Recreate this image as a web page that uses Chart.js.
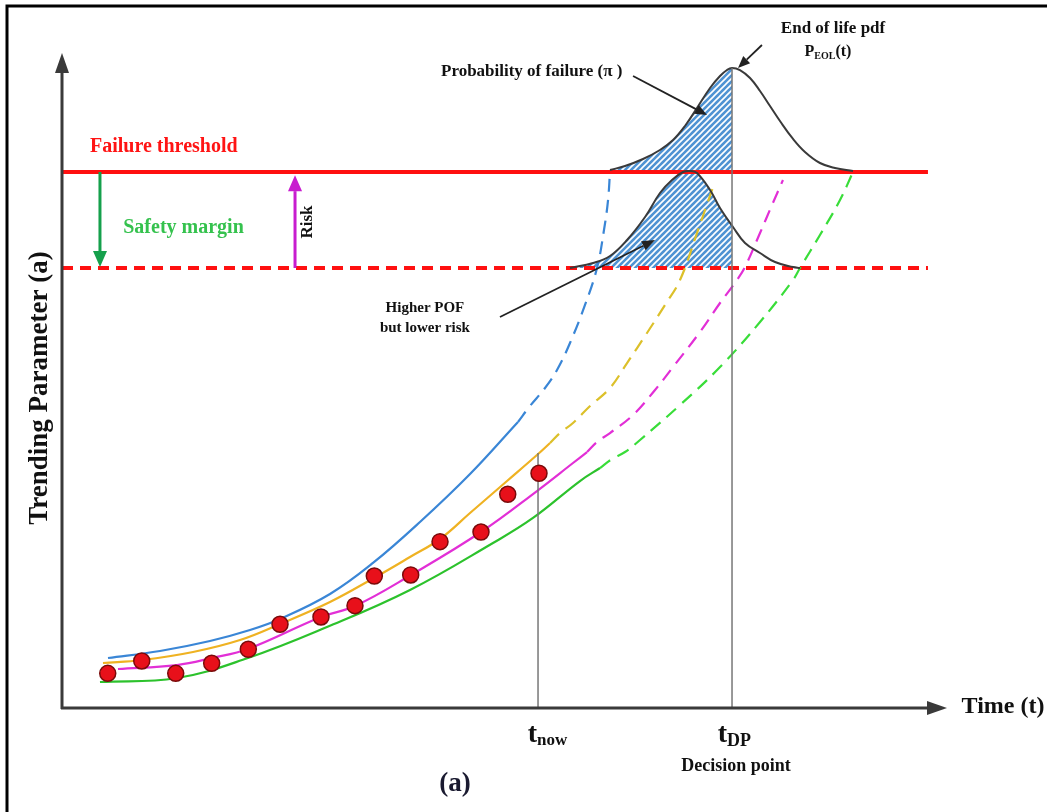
<!DOCTYPE html>
<html><head><meta charset="utf-8">
<script src="https://cdn.jsdelivr.net/npm/chart.js@4.4.1/dist/chart.umd.min.js"></script>
<style>html,body{margin:0;padding:0;background:#fff;overflow:hidden}canvas{display:block}</style>
</head><body>
<canvas id="c" width="1047" height="812"></canvas>
<script>
// ---- Data (x = time units 0..100, y = trending parameter units 0..100) ----
const measurements = [[5.18,5.31],[9.03,7.20],[12.88,5.31],[16.95,6.85],[21.10,8.99],[24.69,12.82],[29.33,13.94],[33.18,15.67],[35.37,20.21],[39.49,20.37],[42.81,25.47],[47.45,26.95],[50.48,32.73],[54.02,35.94]];

const blueFit = [[5.21,7.66],[11.10,8.73],[16.76,10.26],[21.29,11.94],[24.69,13.63],[30.35,17.46],[35.22,22.21],[40.54,28.48],[46.21,35.83],[51.64,43.80]];
const blueForecast = [[51.64,43.80],[53.00,46.25],[54.70,49.00],[56.06,51.76],[57.53,55.90],[59.23,61.72],[60.59,67.38],[61.38,73.20],[61.84,77.79],[62.06,82.08]];

const orangeFit = [[4.64,6.89],[9.06,7.35],[14.84,8.58],[20.16,10.41],[24.69,12.86],[30.35,16.23],[35.33,19.91],[39.41,23.12],[42.81,25.88],[46.21,29.86],[50.40,34.76],[53.79,38.74],[55.27,40.58]];
const orangeForecast = [[55.27,40.58],[56.40,42.11],[57.87,43.64],[59.80,46.25],[62.06,49.00],[63.99,52.83],[66.25,57.43],[68.29,61.72],[69.99,65.54],[71.91,72.74],[73.73,79.79]];

const magentaFit = [[6.34,5.97],[13.02,6.58],[16.99,7.66],[21.06,9.04],[29.33,13.94],[33.18,15.62],[39.52,20.37],[47.45,26.95],[53.79,33.23],[57.87,37.52],[59.46,39.20]];
const magentaForecast = [[59.46,39.20],[60.59,40.74],[62.06,42.11],[64.67,44.87],[67.16,48.70],[69.20,52.22],[72.25,57.58],[74.52,62.02],[76.44,65.54],[77.35,67.53],[79.05,72.74],[80.41,77.03],[81.65,80.86]];

const greenFit = [[4.30,3.98],[13.02,4.59],[21.06,7.66],[30.01,12.40],[39.41,18.07],[48.81,25.27],[53.34,29.10],[58.66,34.76],[60.93,36.75]];
const greenForecast = [[60.93,36.75],[62.29,38.13],[63.76,39.20],[65.46,41.04],[69.99,46.40],[74.52,52.22],[79.05,59.11],[82.79,65.54],[83.58,67.38],[85.84,72.43],[88.11,77.79],[89.58,82.08]];

const endOfLifePdf = [[62.06,82.39],[63.76,83.00],[65.80,84.07],[67.72,85.45],[69.20,86.98],[70.55,89.13],[71.91,91.88],[73.39,94.95],[74.52,96.78],[75.31,97.70],[75.88,98.01],[76.78,97.70],[77.92,96.48],[79.05,94.49],[80.18,92.19],[81.31,89.89],[82.79,87.14],[84.14,85.15],[85.84,83.46],[87.54,82.70],[89.58,82.24]];
const endOfLifePof = [[62.06,82.39],[63.76,83.00],[65.80,84.07],[67.72,85.45],[69.20,86.98],[70.55,89.13],[71.91,91.88],[73.39,94.95],[74.52,96.78],[75.31,97.70],[75.88,98.01]];

const lowerPdf = [[57.53,67.38],[60.14,68.15],[62.06,69.22],[63.99,71.67],[66.03,75.19],[67.72,78.87],[69.08,80.86],[70.33,82.08],[71.12,82.24],[71.91,81.93],[73.39,79.33],[74.52,76.57],[75.99,73.66],[77.35,71.21],[79.05,69.68],[80.75,68.30],[82.79,67.53],[83.58,67.38]];
const lowerPof = [[57.53,67.38],[60.14,68.15],[62.06,69.22],[63.99,71.67],[66.03,75.19],[67.72,78.87],[69.08,80.86],[70.33,82.08],[71.12,82.24],[71.91,81.93],[73.39,79.33],[74.52,76.57],[75.88,73.97]];

const failureThreshold = 82.08;
const safetyThreshold = 67.38;
const thresholdEnd = 98.07;
const tNow = 53.91, tNowTop = 39.05;
const tDP = 75.88, tDPTop = 98.01;

// ---- helpers ----
const FONT = '"Liberation Serif","Times New Roman",serif';
const pts = a => a.map(p => ({x:p[0], y:p[1]}));

function hatch(){
  const s = 6, c = document.createElement('canvas'); c.width = c.height = s;
  const g = c.getContext('2d');
  g.fillStyle = '#4f93d3'; g.fillRect(0,0,s,s);
  g.strokeStyle = '#ffffff'; g.lineWidth = 1.6;
  g.beginPath();
  g.moveTo(-1,s+1); g.lineTo(s+1,-1);
  g.moveTo(-1,1); g.lineTo(1,-1);
  g.moveTo(s-1,s+1); g.lineTo(s+1,s-1);
  g.stroke();
  return g.createPattern(c,'repeat');
}

function arrow(ctx,x1,y1,x2,y2,color,w,hl,hw){
  const ang = Math.atan2(y2-y1,x2-x1);
  const bx = x2 - hl*Math.cos(ang), by = y2 - hl*Math.sin(ang);
  ctx.strokeStyle = color; ctx.fillStyle = color; ctx.lineWidth = w;
  ctx.beginPath(); ctx.moveTo(x1,y1); ctx.lineTo(bx,by); ctx.stroke();
  ctx.beginPath();
  ctx.moveTo(x2,y2);
  ctx.lineTo(bx + hw*Math.sin(ang), by - hw*Math.cos(ang));
  ctx.lineTo(bx - hw*Math.sin(ang), by + hw*Math.cos(ang));
  ctx.closePath(); ctx.fill();
}

const overlay = {
  id:'overlay',
  afterDatasetsDraw(chart){
    const {ctx, chartArea:a} = chart;
    const xs = chart.scales.x, ys = chart.scales.y;
    const X = v => xs.getPixelForValue(v), Y = v => ys.getPixelForValue(v);
    ctx.save();
    // frame
    ctx.strokeStyle = '#000'; ctx.lineWidth = 3;
    ctx.beginPath(); ctx.moveTo(7,812); ctx.lineTo(7,6); ctx.lineTo(1047,6); ctx.stroke();
    // axes
    arrow(ctx, a.left, a.bottom+1, a.left, a.top-2, '#3a3a3a', 3, 20, 7);
    arrow(ctx, a.left-1, a.bottom, a.right+2, a.bottom, '#3a3a3a', 3, 20, 7);

    // safety margin & risk arrows
    arrow(ctx, X(4.30), Y(failureThreshold), X(4.30), Y(safetyThreshold)-1, '#15a04c', 3, 16, 7);
    arrow(ctx, X(26.39), Y(safetyThreshold), X(26.39), Y(81.6), '#c81ccf', 3, 16, 7);

    // annotation arrows
    arrow(ctx, X(64.67), Y(96.78), X(73.05), Y(90.81), '#222', 1.8, 12, 5);
    arrow(ctx, X(79.27), Y(101.53), X(76.56), Y(98.01), '#222', 1.8, 12, 5);
    arrow(ctx, X(49.60), Y(59.88), X(67.16), Y(71.67), '#222', 1.8, 13, 5);

    ctx.textBaseline = 'middle';
    // Failure threshold
    ctx.fillStyle = '#ff1414'; ctx.font = 'bold 20px '+FONT; ctx.textAlign = 'left';
    ctx.fillText('Failure threshold', X(3.17), Y(85.91));
    // Safety margin
    ctx.fillStyle = '#35c24e'; ctx.font = 'bold 20px '+FONT; ctx.textAlign = 'center';
    ctx.fillText('Safety margin', X(13.76), Y(73.58));
    // Risk
    ctx.fillStyle = '#111'; ctx.font = 'bold 17px '+FONT;
    ctx.save(); ctx.translate(X(27.86), Y(74.43)); ctx.rotate(-Math.PI/2);
    ctx.fillText('Risk', 0, 0); ctx.restore();
    // Probability of failure
    ctx.font = 'bold 17px '+FONT;
    ctx.fillText('Probability of failure (\u03C0 )', X(53.2), Y(97.40));
    // End of life pdf
    ctx.font = 'bold 17px '+FONT;
    ctx.fillText('End of life pdf', X(87.32), Y(104.1));
    // P_EOL(t)
    {
      const cx = X(86.75), cy = Y(100.46);
      ctx.font = 'bold 16px '+FONT; const wP = ctx.measureText('P').width, wT = ctx.measureText('(t)').width;
      ctx.font = 'bold 10px '+FONT; const wS = ctx.measureText('EOL').width;
      let x0 = cx - (wP+wS+wT)/2;
      ctx.textAlign = 'left';
      ctx.font = 'bold 16px '+FONT; ctx.fillText('P', x0, cy);
      ctx.font = 'bold 10px '+FONT; ctx.fillText('EOL', x0+wP, cy+4);
      ctx.font = 'bold 16px '+FONT; ctx.fillText('(t)', x0+wP+wS, cy);
    }
    // Higher POF
    ctx.textAlign = 'center'; ctx.font = 'bold 15px '+FONT;
    ctx.fillText('Higher POF', X(41.1), Y(61.26));
    ctx.fillText('but lower risk', X(41.1), Y(58.19));

    // time markers
    ctx.textBaseline = 'alphabetic'; ctx.fillStyle = '#111';
    const tn = X(tNow);
    ctx.textAlign = 'right'; ctx.font = 'bold 28px '+FONT; ctx.fillText('t', tn-1, 742);
    ctx.textAlign = 'left'; ctx.font = 'bold 17px '+FONT; ctx.fillText('now', tn-1, 745);
    const td = X(tDP);
    ctx.textAlign = 'right'; ctx.font = 'bold 28px '+FONT; ctx.fillText('t', td-5, 742);
    ctx.textAlign = 'left'; ctx.font = 'bold 18px '+FONT; ctx.fillText('DP', td-5, 746);
    ctx.textAlign = 'center'; ctx.font = 'bold 18px '+FONT; ctx.textBaseline = 'middle';
    ctx.fillText('Decision point', td+4, 766);

    // axis titles
    ctx.font = 'bold 24px '+FONT; ctx.fillStyle = '#111';
    ctx.fillText('Time (t)', 1003, 707);
    ctx.save(); ctx.translate(40, 388); ctx.rotate(-Math.PI/2);
    ctx.font = 'bold 27px '+FONT; ctx.fillText('Trending Parameter (a)', 0, 0); ctx.restore();
    // (a)
    ctx.fillStyle = '#1a1a30'; ctx.font = 'bold 27px '+FONT;
    ctx.fillText('(a)', 455, 784);
    ctx.restore();
  }
};

const line = (data, color, opts={}) => Object.assign({
  data: pts(data), showLine: true, borderColor: color, borderWidth: 2.2,
  pointRadius: 0, fill: false, tension: 0.4
}, opts);
const dash = [13, 8];
const pattern = hatch();

new Chart(document.getElementById('c'), {
  type: 'scatter',
  data: { datasets: [
    {data: pts(measurements), pointRadius: 8, pointBackgroundColor: '#e8101a', pointBorderColor: '#7a0a0a', pointBorderWidth: 1.5, order: 0},
    line([[tNow,0],[tNow,tNowTop]], '#777', {borderWidth: 1.5, order: 1, tension: 0}),
    line([[tDP,0],[tDP,tDPTop]], '#777', {borderWidth: 1.5, order: 1, tension: 0}),
    line(endOfLifePdf, '#3a3a3a', {borderWidth: 2, order: 2}),
    line(lowerPdf, '#3a3a3a', {borderWidth: 2, order: 2}),
    line(blueFit, '#3a86d6', {order: 3}),
    line(blueForecast, '#3a86d6', {borderDash: dash, order: 3}),
    line(orangeFit, '#efb222', {order: 3}),
    line(orangeForecast, '#dcc02a', {borderDash: dash, order: 3}),
    line(magentaFit, '#e22fd6', {order: 3}),
    line(magentaForecast, '#e22fd6', {borderDash: dash, order: 3}),
    line(greenFit, '#2cc22c', {order: 3}),
    line(greenForecast, '#39dd39', {borderDash: dash, order: 3}),
    line([[0,failureThreshold],[thresholdEnd,failureThreshold]], '#ff1010', {borderWidth: 4, order: 4, tension: 0}),
    line([[0,safetyThreshold],[thresholdEnd,safetyThreshold]], '#ff1010', {borderWidth: 4, borderDash: [11,7], order: 4, tension: 0}),
    line(endOfLifePof, 'rgba(0,0,0,0)', {borderWidth: 0, fill: {value: failureThreshold}, backgroundColor: pattern, order: 5}),
    line(lowerPof, 'rgba(0,0,0,0)', {borderWidth: 0, fill: {value: safetyThreshold}, backgroundColor: pattern, order: 5})
  ]},
  options: {
    responsive: false, animation: false,
    layout: { padding: { left: 62, right: 102, top: 55, bottom: 104 } },
    plugins: { legend: {display: false}, tooltip: {enabled: false} },
    scales: {
      x: { type: 'linear', min: 0, max: 100, display: false },
      y: { type: 'linear', min: 0, max: 100, display: false }
    }
  },
  plugins: [overlay]
});
</script>
</body></html>
